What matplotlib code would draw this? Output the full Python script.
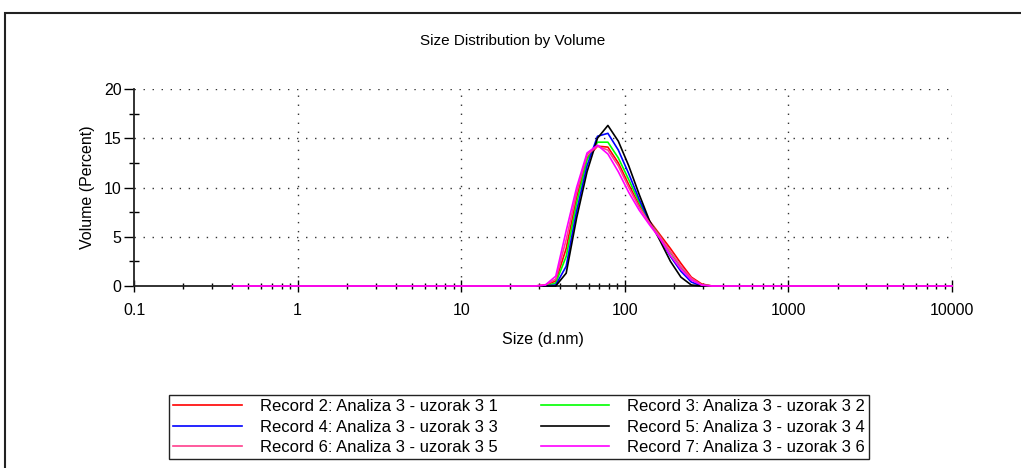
"""
Size Distribution by Volume - six DLS records on a log size axis.
"""

import matplotlib
matplotlib.use('Agg')
import matplotlib.pyplot as plt
from matplotlib.patches import Rectangle
from matplotlib.ticker import FixedLocator, NullFormatter
import numpy as np

plt.rcParams.update({
    'font.family': ['Liberation Sans', 'DejaVu Sans'],
    'font.size': 11,
    'figure.facecolor': 'white',
})

# instrument bins: 70 log-spaced sizes from 0.4 to 10000 nm
sizes = np.geomspace(0.4, 10000, 70)

# non-zero part of each record starts at bin 30 (~33 nm); everything else is 0
FIRST_BIN = 30
rec2 = [0.1, 0.5, 3.8, 9.0, 13.0, 14.2, 14.1, 12.5, 10.3, 8.2, 6.6, 5.2, 3.8, 2.3, 0.9, 0.2, 0.0]
rec3 = [0.0, 0.3, 3.0, 8.4, 12.8, 14.6, 14.6, 13.0, 10.8, 8.5, 6.5, 5.0, 3.4, 1.9, 0.7, 0.1, 0.0]
rec4 = [0.0, 0.1, 2.0, 7.6, 12.2, 15.2, 15.5, 13.8, 11.4, 8.8, 6.5, 4.8, 3.0, 1.5, 0.4, 0.0, 0.0]
rec5 = [0.0, 0.0, 1.3, 6.9, 11.6, 15.0, 16.3, 14.7, 12.2, 9.3, 6.6, 4.6, 2.5, 0.9, 0.1, 0.0, 0.0]
rec6 = [0.1, 0.7, 4.7, 9.5, 13.3, 14.2, 13.8, 12.2, 10.0, 8.0, 6.4, 5.0, 3.5, 2.0, 0.8, 0.1, 0.0]
rec7 = [0.1, 1.0, 5.6, 10.0, 13.5, 14.3, 13.4, 11.6, 9.5, 7.7, 6.2, 4.8, 3.1, 1.7, 0.6, 0.1, 0.0]

labels = [
    'Record 2: Analiza 3 - uzorak 3 1',
    'Record 3: Analiza 3 - uzorak 3 2',
    'Record 4: Analiza 3 - uzorak 3 3',
    'Record 5: Analiza 3 - uzorak 3 4',
    'Record 6: Analiza 3 - uzorak 3 5',
    'Record 7: Analiza 3 - uzorak 3 6',
]
colors = ['#FF0000', '#00FF00', '#0000FF', '#000000', '#FF3E8C', '#FF00FF']
records = [rec2, rec3, rec4, rec5, rec6, rec7]


def full_series(vals):
    out = np.zeros(len(sizes))
    out[FIRST_BIN:FIRST_BIN + len(vals)] = vals
    return out


fig = plt.figure(figsize=(10.21, 4.68), dpi=100)
W, H = 1021, 468

# outer frame of the report panel
fig.patches.append(Rectangle((5 / W, -0.05), 1.1, 1 - 13 / H + 0.05,
                             transform=fig.transFigure, fill=False,
                             edgecolor='#222222', linewidth=1.5))

ax = fig.add_axes([134 / W, 1 - 286 / H, (952 - 134) / W, (286 - 89) / H])

handles = []
for vals, lab, col in zip(records, labels, colors):
    h, = ax.plot(sizes, full_series(vals), color=col, linewidth=1.2, label=lab,
                 clip_on=False, zorder=3)
    handles.append(h)

ax.set_xscale('log')
ax.set_xlim(0.1, 10000)
ax.set_ylim(0, 20)

ax.set_xticks([0.1, 1, 10, 100, 1000, 10000])
ax.set_xticklabels(['0.1', '1', '10', '100', '1000', '10000'])
ax.xaxis.set_minor_locator(FixedLocator(
    [m * 10.0 ** e for e in range(-1, 4) for m in range(2, 10)]))
ax.xaxis.set_minor_formatter(NullFormatter())
ax.set_yticks([0, 5, 10, 15, 20])
ax.yaxis.set_minor_locator(FixedLocator([2.5, 7.5, 12.5, 17.5]))

ax.tick_params(axis='x', which='major', direction='inout', length=8, width=1.0, pad=8,
               labelsize=11.5)
ax.tick_params(axis='x', which='minor', direction='inout', length=4, width=1.0)
ax.tick_params(axis='y', which='major', direction='out', length=7, width=1.0, pad=2,
               labelsize=11.5)
ax.tick_params(axis='y', which='minor', direction='inout', length=7, width=1.0)

for s in ('top', 'right'):
    ax.spines[s].set_visible(False)
for s in ('left', 'bottom'):
    ax.spines[s].set_linewidth(1.3)
    ax.spines[s].set_color('#222222')
    ax.spines[s].set_zorder(2)

dot = (0, (1, 5.5))
for x in [1, 10, 100, 1000, 10000]:
    ax.axvline(x, color='#333333', linewidth=1.0, linestyle=dot, zorder=0)
for y in [5, 10, 15, 20]:
    ax.axhline(y, color='#333333', linewidth=1.0, linestyle=dot, zorder=0)

ax.set_xlabel('Size (d.nm)', labelpad=10, fontsize=11.5)
ax.set_ylabel('Volume (Percent)', labelpad=6, fontsize=11.5)
fig.text(513 / W, 1 - 41 / H, 'Size Distribution by Volume', ha='center', va='center')

# legend fills column by column: left column is records 2, 4, 6
order = [0, 2, 4, 1, 3, 5]
leg = fig.legend([handles[i] for i in order], [labels[i] for i in order],
                 ncol=2, loc='upper left',
                 bbox_to_anchor=(169 / W, 1 - 395 / H),
                 borderaxespad=0, fancybox=False, framealpha=1,
                 edgecolor='#222222', handlelength=4.1, handletextpad=1.08,
                 columnspacing=2.6, labelspacing=0.33, borderpad=0.25, fontsize=12)
leg.get_frame().set_linewidth(1.0)

plt.savefig('out.png', dpi=100)
plt.close()
